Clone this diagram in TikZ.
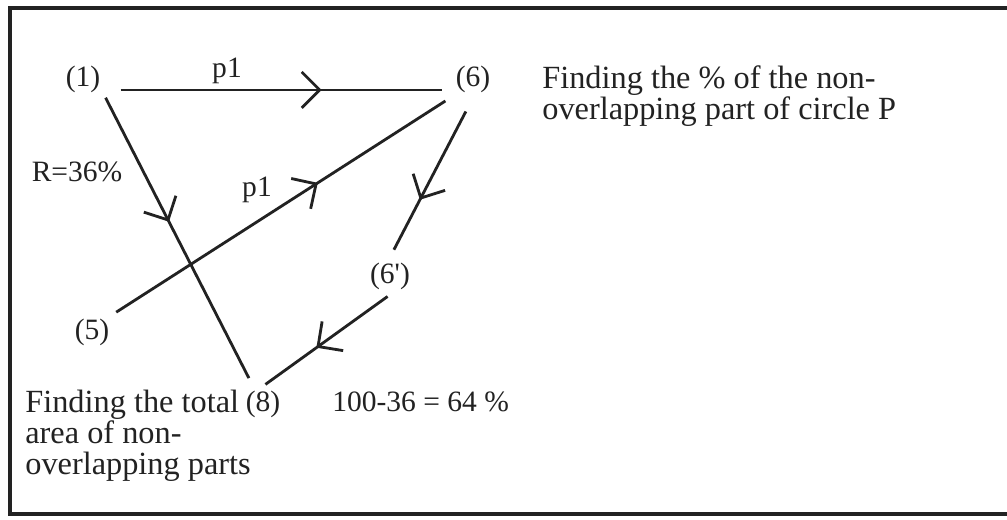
\documentclass[tikz,border=0pt]{standalone}
\usepackage{fontspec}
\setmainfont{Liberation Serif}
\usetikzlibrary{arrows.meta,decorations.markings}

\definecolor{ink}{HTML}{222222}

\begin{document}
\begin{tikzpicture}[
    every node/.style={text=ink, font=\fontsize{16.8}{17.6}\selectfont},
    tag/.style={inner sep=0.1cm},
    note/.style={inner sep=0pt, align=left},
    words/.style={note, font=\fontsize{18.4}{17.6}\selectfont},
    link/.style={draw=ink, line width=1.6pt},
    midarrow/.style={postaction={decorate}, decoration={markings,
        mark=at position #1 with {\arrow{Straight Barb[length=0.36cm, width=0.72cm]}}}}
    ]
    \useasboundingbox (0,0) rectangle (20.14,10.4);
    \fill [white] (0,0) rectangle (20.14,10.4);

    \draw [ink, line width=2pt]
        (20.14,10.24) -- (0.2,10.24) -- (0.2,0.12) -- (20.14,0.12)
        ;

    \node [tag] (n1) at (1.66,8.82) {(1)};
    \node [tag] (n6) at (9.46,8.82) {(6)};
    \node [tag] (n6p) at (7.80,4.88) {(6\textquotesingle)};
    \node [tag] (n5) at (1.84,3.76) {(5)};
    \node [tag, anchor=base] (n8) at (5.26,2.16) {(8)};

    \node [note, anchor=base] (p1a) at (4.54,8.84) {p1};
    \node [note, anchor=base] (p1b) at (5.14,6.46) {p1};
    \node [note, anchor=base] (rate) at (1.54,6.76) {R=36\%};
    \node [words, anchor=north west] (goal) at (10.84,9.10)
        {Finding the \% of the non-\\overlapping part of circle P};
    \node [words, anchor=north west] (area) at (0.50,2.60)
        {Finding the total\\area of non-\\overlapping parts};
    \node [note, anchor=base west] (diff) at (6.64,2.16) {100-36 = 64 \%};

    \draw [link, midarrow=0.625]
        ([shift={(0.30,-0.22)}]n1.east) -- ([shift={(-0.16,-0.22)}]n6.west)
        ;
    \draw [link, midarrow=0.43, shorten >=0.18cm]
        (n1.south east) -- ([xshift=-0.2cm]n8.north)
        ;
    \draw [link, midarrow=0.605, shorten <=0.04cm, shorten >=0.12cm]
        (n5.north east) -- (n6.south west)
        ;
    \draw [link, midarrow=0.64, shorten <=0.31cm, shorten >=0.17cm]
        (n6.south) -- (n6p.north)
        ;
    \draw [link, midarrow=0.58, shorten <=0.06cm, shorten >=0.06cm]
        (n6p.south) -- (n8.north)
        ;
\end{tikzpicture}
\end{document}
